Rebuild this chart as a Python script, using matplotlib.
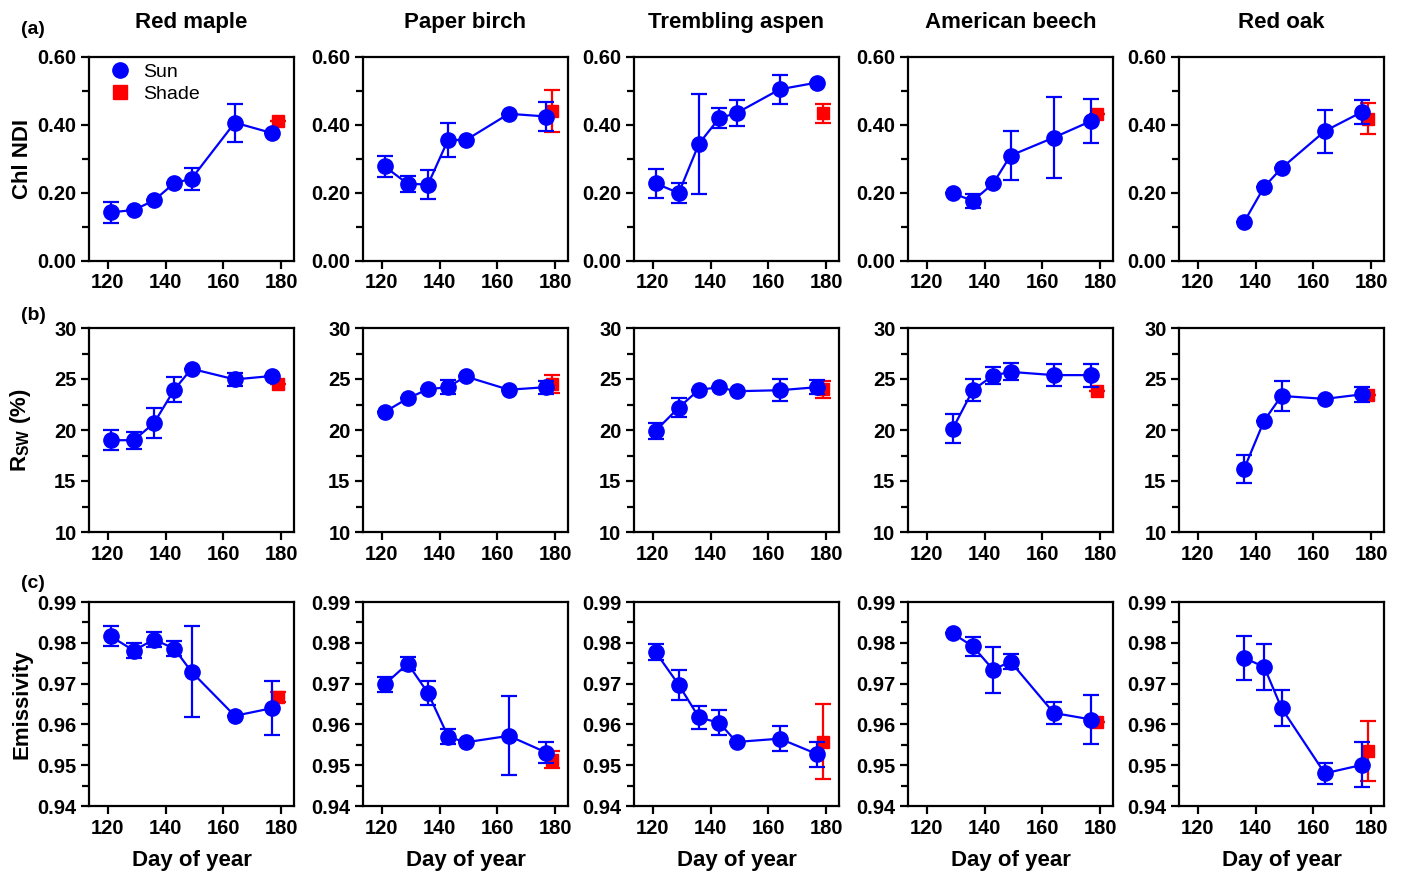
import matplotlib
matplotlib.use("Agg")
import matplotlib.pyplot as plt
from matplotlib.lines import Line2D
from matplotlib.ticker import MultipleLocator, FormatStrFormatter

plt.rcParams['font.family'] = ['Liberation Sans', 'DejaVu Sans']
plt.rcParams['mathtext.fontset'] = 'custom'
plt.rcParams['mathtext.rm'] = 'Liberation Sans'
plt.rcParams['mathtext.bf'] = 'Liberation Sans:bold'

species = ["Red maple", "Paper birch", "Trembling aspen", "American beech", "Red oak"]
shade_day = 179

# Chl NDI (row a)
chl_days = [
    [121, 129, 136, 143, 149, 164, 177],
    [121, 129, 136, 143, 149, 164, 177],
    [121, 129, 136, 143, 149, 164, 177],
    [129, 136, 143, 149, 164, 177],
    [136, 143, 149, 164, 177],
]
chl_sun = [
    [0.143, 0.150, 0.178, 0.229, 0.242, 0.407, 0.376],
    [0.278, 0.227, 0.225, 0.357, 0.355, 0.433, 0.425],
    [0.228, 0.200, 0.345, 0.420, 0.435, 0.505, 0.525],
    [0.199, 0.177, 0.228, 0.310, 0.363, 0.412],
    [0.114, 0.218, 0.273, 0.382, 0.439],
]
chl_sun_err = [
    [0.030, 0.0, 0.0, 0.0, 0.032, 0.056, 0.0],
    [0.030, 0.023, 0.043, 0.050, 0.0, 0.0, 0.042],
    [0.044, 0.029, 0.147, 0.030, 0.038, 0.043, 0.0],
    [0.0, 0.020, 0.0, 0.071, 0.118, 0.064],
    [0.0, 0.0, 0.0, 0.063, 0.036],
]
chl_shade = [0.413, 0.442, 0.434, 0.432, 0.419]
chl_shade_err = [0.0, 0.062, 0.028, 0.0, 0.046]

# Rsw (row b)
rsw_sun = [
    [19.0, 19.0, 20.67, 23.95, 26.0, 24.96, 25.3],
    [21.77, 23.1, 24.0, 24.2, 25.25, 23.95, 24.2],
    [19.93, 22.2, 23.95, 24.18, 23.8, 23.9, 24.2],
    [20.13, 23.93, 25.34, 25.7, 25.38, 25.38],
    [16.16, 20.92, 23.34, 23.05, 23.5],
]
rsw_sun_err = [
    [0.98, 0.85, 1.48, 1.24, 0.0, 0.6, 0.0],
    [0.0, 0.0, 0.0, 0.7, 0.0, 0.0, 0.65],
    [0.8, 0.97, 0.0, 0.0, 0.0, 1.07, 0.7],
    [1.43, 1.1, 0.8, 0.82, 1.1, 1.13],
    [1.38, 0.0, 1.5, 0.0, 0.72],
]
rsw_shade = [24.5, 24.5, 24.0, 23.87, 23.44]
rsw_shade_err = [0.0, 0.85, 0.85, 0.0, 0.0]

# Emissivity (row c)
emis_sun = [
    [0.9816, 0.9781, 0.9808, 0.9786, 0.9729, 0.9621, 0.9640],
    [0.9698, 0.9749, 0.9677, 0.9570, 0.9556, 0.9572, 0.9531],
    [0.9777, 0.9697, 0.9617, 0.9604, 0.9557, 0.9565, 0.9527],
    [0.9823, 0.9791, 0.9734, 0.9754, 0.9628, 0.9612],
    [0.9763, 0.9741, 0.9640, 0.9480, 0.9501],
]
emis_sun_err = [
    [0.0024, 0.0018, 0.0018, 0.0019, 0.0111, 0.0, 0.0066],
    [0.0019, 0.0016, 0.0029, 0.0018, 0.0, 0.0097, 0.0025],
    [0.0020, 0.0037, 0.0029, 0.0031, 0.0, 0.0030, 0.0031],
    [0.0, 0.0023, 0.0056, 0.0018, 0.0027, 0.0060],
    [0.0053, 0.0057, 0.0044, 0.0026, 0.0055],
]
emis_shade = [0.9668, 0.9513, 0.9558, 0.9606, 0.9535]
emis_shade_err = [0.0012, 0.0021, 0.0093, 0.0, 0.0074]

rows = [
    (chl_sun, chl_sun_err, chl_shade, chl_shade_err, (0, 0.6), 0.2, 0.1, "%.2f", "Chl NDI"),
    (rsw_sun, rsw_sun_err, rsw_shade, rsw_shade_err, (10, 30), 5, 2.5, "%d", r"R$_{\mathbf{SW}}$ (%)"),
    (emis_sun, emis_sun_err, emis_shade, emis_shade_err, (0.94, 0.99), 0.01, 0.005, "%.2f", "Emissivity"),
]

W, H = 1401, 874
fig = plt.figure(figsize=(W / 100, H / 100), dpi=100)
lefts = [89, 363, 634, 908, 1179]
tops = [57, 328, 602]
aw, ah = 205, 204

for r, (sun, sun_err, shade, shade_err, ylim, major, minor, fmt, ylab) in enumerate(rows):
    for c in range(5):
        ax = fig.add_axes([lefts[c] / W, 1 - (tops[r] + ah) / H, aw / W, ah / H])
        days = chl_days[c]
        ax.errorbar(days, sun[c], yerr=sun_err[c], color="#0000FF", marker="o", ms=11,
                    lw=1.6, elinewidth=1.6, capsize=6, capthick=1.6, zorder=3)
        ax.errorbar([shade_day], [shade[c]], yerr=[shade_err[c]], color="#FF0000", marker="s",
                    ms=9, ls="none", elinewidth=1.6, capsize=6, capthick=1.6, zorder=2)
        ax.set_xlim(113.5, 184.5)
        ax.set_ylim(*ylim)
        ax.set_xticks([120, 140, 160, 180])
        ax.yaxis.set_major_locator(MultipleLocator(major))
        ax.yaxis.set_minor_locator(MultipleLocator(minor))
        ax.yaxis.set_major_formatter(FormatStrFormatter(fmt))
        ax.tick_params(which="major", direction="out", length=6, width=1.6, labelsize=14.5, pad=3)
        ax.tick_params(which="minor", direction="out", length=5, width=1.6)
        for lab in ax.get_xticklabels() + ax.get_yticklabels():
            lab.set_fontweight("bold")
        for s in ax.spines.values():
            s.set_linewidth(1.6)
        if r == 0:
            ax.set_title(species[c], fontsize=16, fontweight="bold", pad=21)
        if r == 2:
            ax.set_xlabel("Day of year", fontsize=16, fontweight="bold", labelpad=9)
        if c == 0:
            ax.set_ylabel(ylab, fontsize=16, fontweight="bold")
            ax.yaxis.set_label_coords(-0.275, 0.5)
        if r == 0 and c == 0:
            handles = [Line2D([], [], color="#0000FF", marker="o", ms=11, ls="none"),
                       Line2D([], [], color="#FF0000", marker="s", ms=10, ls="none")]
            ax.legend(handles, ["Sun", "Shade"], loc="upper left", frameon=False, fontsize=14,
                      handletextpad=0.4, borderaxespad=0.1, labelspacing=0.2, handlelength=1.5,
                      bbox_to_anchor=(0.035, 1.015))

for lab, y in zip(["(a)", "(b)", "(c)"], [30, 315, 583]):
    fig.text(21 / W, 1 - y / H, lab, fontsize=14, fontweight="bold", va="center", ha="left")

fig.savefig("out.png", dpi=100)
